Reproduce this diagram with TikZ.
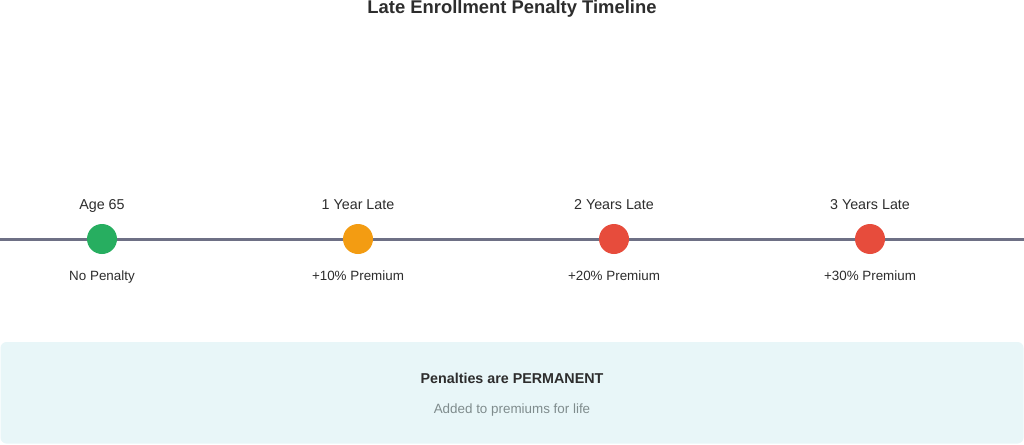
\documentclass[tikz,border=0pt]{standalone}
\usepackage{fontspec}
\setmainfont{Liberation Sans}
\definecolor{txt}{HTML}{2D2D2D}
\definecolor{linec}{HTML}{6E7085}
\definecolor{cgreen}{HTML}{27AE60}
\definecolor{corange}{HTML}{F39C12}
\definecolor{cred}{HTML}{E74C3C}
\definecolor{boxfill}{HTML}{E8F6F8}
\definecolor{subtxt}{HTML}{7F8C8D}
\tikzset{
  dot/.style={circle,inner sep=0pt,minimum size=30pt},
  toplab/.style={font=\fontsize{14.3}{17}\selectfont,text=txt,text height=0.72em,text depth=0.22em},
  botlab/.style={font=\fontsize{13.4}{16}\selectfont,text=txt,text height=0.72em,text depth=0.22em},
}
\begin{document}
\begin{tikzpicture}[x=1pt,y=-1pt]
\useasboundingbox[fill=white] (0,0) rectangle (1024,444);
\node[font=\bfseries\fontsize{18.4}{22}\selectfont,text=txt] (title) at (512,9) {Late Enrollment Penalty Timeline};
\coordinate (L) at (0,239);
\coordinate (R) at (1024,239);
\draw[linec,line width=3pt] (L) -- (R);
\node[dot,fill=cgreen] (d1) at (102,239) {};
\node[dot,fill=corange] (d2) at (358,239) {};
\node[dot,fill=cred] (d3) at (614,239) {};
\node[dot,fill=cred] (d4) at (870,239) {};
\node[toplab] (t1) at (102,207) {Age 65};
\node[toplab] (t2) at (358,207) {1 Year Late};
\node[toplab] (t3) at (614,207) {2 Years Late};
\node[toplab] (t4) at (870,207) {3 Years Late};
\node[botlab] (b1) at (102,278) {No Penalty};
\node[botlab] (b2) at (358,278) {+10\% Premium};
\node[botlab] (b3) at (614,278) {+20\% Premium};
\node[botlab] (b4) at (870,278) {+30\% Premium};
\fill[boxfill,rounded corners=6pt] (0.5,342) rectangle (1023.5,443.5);
\node[font=\bfseries\fontsize{14.3}{17}\selectfont,text=txt] (p1) at (512,378) {Penalties are PERMANENT};
\node[font=\fontsize{13.4}{16}\selectfont,text=subtxt] (p2) at (512,410) {Added to premiums for life};
\end{tikzpicture}
\end{document}
